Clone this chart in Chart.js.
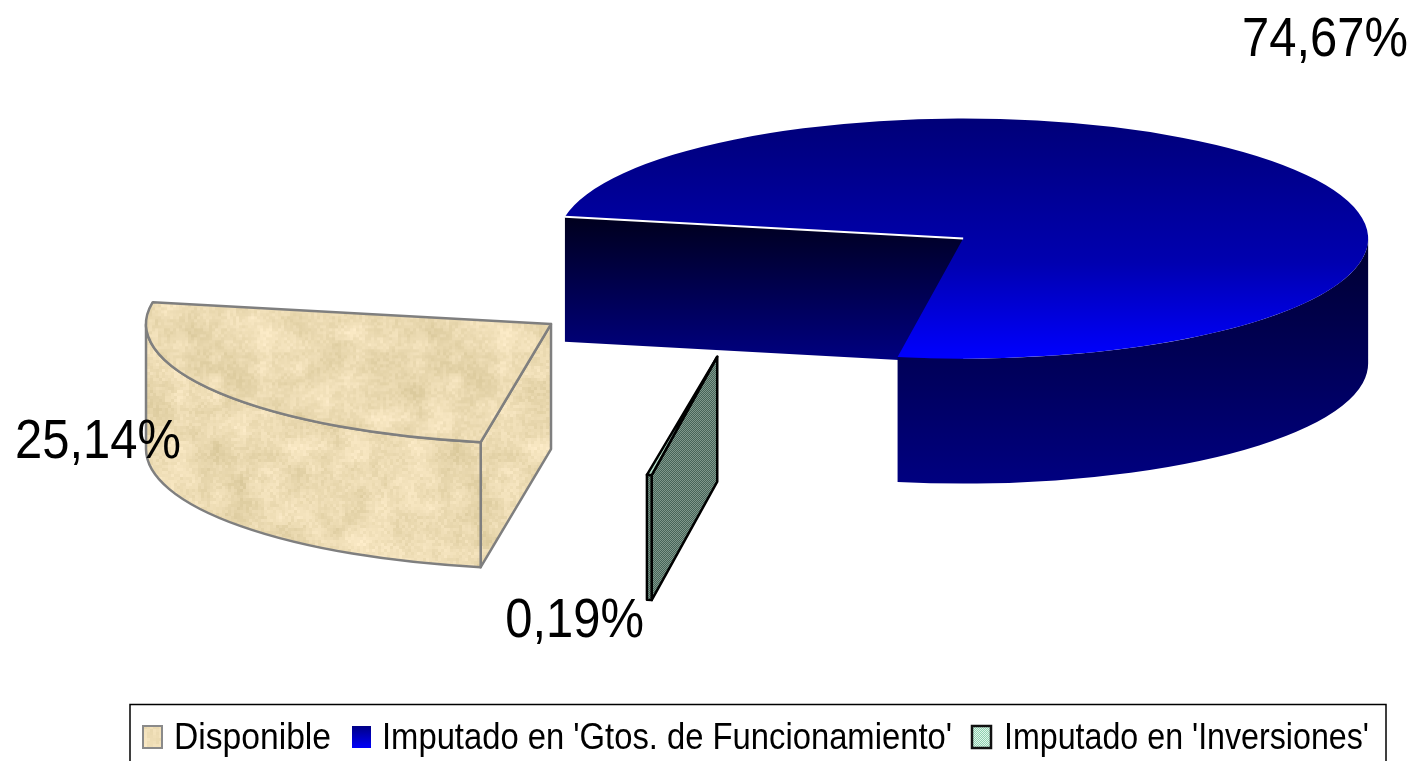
<!DOCTYPE html>
<html>
<head>
<meta charset="utf-8">
<style>
html, body { margin: 0; padding: 0; background: #fff; overflow: hidden; }
canvas { display: block; }
</style>
<script src="https://cdn.jsdelivr.net/npm/chart.js@4/dist/chart.umd.min.js"></script>
</head>
<body>
<canvas id="myChart" width="1416" height="761"></canvas>
<script>
const categories = ['Disponible', "Imputado en 'Gtos. de Funcionamiento'", "Imputado en 'Inversiones'"];
const percentages = [25.14, 74.67, 0.19];

const radiusX = 405;
const radiusY = 120;
const depth = 125;
const explode = 0.6145;
const pieCenter = { x: 757, y: 281 };
const squash = radiusY / radiusX;
const textFont = '"Liberation Sans", Arial, sans-serif';

// small hand nudges on top of the explode, in pixels
const sliceNudge = [{ x: -1.5, y: 1 }, { x: 2.5, y: 0 }, { x: 2, y: 3 }];

// where each percentage goes: right edge and baseline of the text
const labelSpots = [
    { right: 181, base: 458 },
    { right: 1408, base: 56 },
    { right: 644, base: 637 }
];

// legend layout: swatch left, text left, text width
const legendSpots = [
    { swatch: 143, text: 174, width: 157 },
    { swatch: 352, text: 382, width: 570 },
    { swatch: 972, text: 1004, width: 365 }
];

const canvas = document.getElementById('myChart');
const ctx = canvas.getContext('2d');

function noiseAt(x, y) {
    const s = Math.sin(x * 12.9898 + y * 78.233) * 43758.5453;
    return s - Math.floor(s);
}

// value noise that wraps every `cells` cells
function smoothNoise(x, y, cell, cells) {
    const gx = Math.floor(x / cell);
    const gy = Math.floor(y / cell);
    var fx = x / cell - gx;
    var fy = y / cell - gy;
    fx = fx * fx * (3 - 2 * fx);
    fy = fy * fy * (3 - 2 * fy);
    const x0 = gx % cells;
    const y0 = gy % cells;
    const x1 = (gx + 1) % cells;
    const y1 = (gy + 1) % cells;
    const top = noiseAt(x0, y0) * (1 - fx) + noiseAt(x1, y0) * fx;
    const bottom = noiseAt(x0, y1) * (1 - fx) + noiseAt(x1, y1) * fx;
    return top * (1 - fy) + bottom * fy;
}

function makeSandTile() {
    const tile = document.createElement('canvas');
    tile.width = 240;
    tile.height = 240;
    const t = tile.getContext('2d');
    for (var y = 0; y < 240; y += 3) {
        for (var x = 0; x < 240; x += 3) {
            const big = smoothNoise(x, y, 30, 8) - 0.5;
            const mid = smoothNoise(x, y, 12, 20) - 0.5;
            const small = noiseAt(x + 1, y + 2) - 0.5;
            const v = big * 14 + mid * 16 + small * 12;
            t.fillStyle = 'rgb(' + Math.round(237 + v) + ',' + Math.round(220 + v) + ',' + Math.round(180 + v * 1.3) + ')';
            t.fillRect(x, y, 3, 3);
        }
    }
    return tile;
}

function makeDitherTile(colorA, colorB) {
    const tile = document.createElement('canvas');
    tile.width = 2;
    tile.height = 2;
    const t = tile.getContext('2d');
    t.fillStyle = colorA;
    t.fillRect(0, 0, 2, 2);
    t.fillStyle = colorB;
    t.fillRect(0, 0, 1, 1);
    t.fillRect(1, 1, 1, 1);
    return tile;
}

const sandTile = makeSandTile();
const sandFlat = ctx.createPattern(sandTile, 'repeat');
const sandTop = ctx.createPattern(sandTile, 'repeat');
sandTop.setTransform(new DOMMatrix([1, 0, 0, 1 / squash, 0, 0]));

const mossSide = ctx.createPattern(makeDitherTile('#466458', '#80988c'), 'repeat');
const mintTile = makeDitherTile('#8fd0b0', '#e0f5ea');
const mintTop = ctx.createPattern(mintTile, 'repeat');
mintTop.setTransform(new DOMMatrix([1, 0, 0, 1 / squash, 0, 0]));
const mintFlat = ctx.createPattern(mintTile, 'repeat');

const blueTop = ctx.createLinearGradient(0, canvas.height / 2 - radiusX, 0, canvas.height / 2 + radiusX);
blueTop.addColorStop(0, '#000078');
blueTop.addColorStop(0.6, '#0000b0');
blueTop.addColorStop(1, '#0000ff');

const blueWall = ctx.createLinearGradient(0, 240, 0, 482);
blueWall.addColorStop(0, '#000030');
blueWall.addColorStop(1, '#000080');

const blueFace = ctx.createLinearGradient(0, 218, 0, 362);
blueFace.addColorStop(0, '#00001e');
blueFace.addColorStop(1, '#000082');

const blueSwatch = ctx.createLinearGradient(0, 725, 0, 749);
blueSwatch.addColorStop(0, '#000080');
blueSwatch.addColorStop(1, '#0000ff');

const sideFills = [sandFlat, blueWall, mossSide];
const faceFills = [sandFlat, blueFace, mossSide];
const edgeColors = ['#7f7f7f', null, '#000000'];
const edgeWidths = [2.5, 2, 2.5];
const swatchFills = [sandFlat, blueSwatch, mintFlat];
const swatchEdges = ['#8a8a8a', null, '#111111'];

function slicePos(arc, i) {
    const mid = (arc.startAngle + arc.endAngle) / 2;
    return {
        x: pieCenter.x + Math.cos(mid) * explode * radiusX + sliceNudge[i].x,
        y: pieCenter.y + Math.sin(mid) * explode * radiusY + sliceNudge[i].y
    };
}

function rimPoint(p, angle) {
    return { x: p.x + Math.cos(angle) * radiusX, y: p.y + Math.sin(angle) * radiusY };
}

// part of the rim that faces the viewer, null if there is none
function frontRange(a0, a1) {
    const turn = Math.PI * 2;
    for (var k = -1; k < 3; ++k) {
        const from = Math.max(a0, k * turn);
        const to = Math.min(a1, k * turn + Math.PI);
        if (from < to) {
            return [from, to];
        }
    }
    return null;
}

function drawFace(c, p, angle, fill, edge) {
    const rim = rimPoint(p, angle);
    c.beginPath();
    c.moveTo(p.x, p.y);
    c.lineTo(rim.x, rim.y);
    c.lineTo(rim.x, rim.y + depth);
    c.lineTo(p.x, p.y + depth);
    c.closePath();
    c.fillStyle = fill;
    c.fill();
    if (edge) {
        c.stroke();
    }
}

function drawSlice(c, arc, i) {
    const p = slicePos(arc, i);
    const edge = edgeColors[i];
    c.save();
    c.lineWidth = edgeWidths[i];
    c.lineJoin = 'round';
    if (edge) {
        c.strokeStyle = edge;
    }
    // cut faces
    if (Math.cos(arc.startAngle) < 0) {
        drawFace(c, p, arc.startAngle, faceFills[i], edge);
    }
    if (Math.cos(arc.endAngle) > 0) {
        drawFace(c, p, arc.endAngle, faceFills[i], edge);
    }
    // outer wall
    const range = frontRange(arc.startAngle, arc.endAngle);
    if (range) {
        c.beginPath();
        c.ellipse(p.x, p.y, radiusX, radiusY, 0, range[0], range[1]);
        c.ellipse(p.x, p.y + depth, radiusX, radiusY, 0, range[1], range[0], true);
        c.closePath();
        c.fillStyle = sideFills[i];
        c.fill();
        if (edge) {
            c.stroke();
        }
    }
    c.restore();

    // top, drawn by the library's own arc element
    c.save();
    c.translate(p.x, p.y);
    c.scale(1, squash);
    c.translate(-arc.x, -arc.y);
    arc.draw(c);
    c.restore();

    c.save();
    c.lineWidth = edgeWidths[i];
    c.lineJoin = 'round';
    const a = rimPoint(p, arc.startAngle);
    c.beginPath();
    if (edge) {
        c.moveTo(p.x, p.y);
        c.lineTo(a.x, a.y);
        c.ellipse(p.x, p.y, radiusX, radiusY, 0, arc.startAngle, arc.endAngle);
        c.closePath();
        c.strokeStyle = edge;
        c.stroke();
    } else {
        c.moveTo(a.x, a.y);
        c.lineTo(p.x, p.y);
        c.strokeStyle = '#ffffff';
        c.stroke();
    }
    c.restore();
}

function drawWideText(c, text, x, y, size, stretch) {
    c.save();
    c.translate(x, y);
    c.scale(stretch, 1);
    c.font = size + 'px ' + textFont;
    c.fillStyle = '#000000';
    c.textBaseline = 'alphabetic';
    c.textAlign = 'left';
    c.fillText(text, 0, 0);
    c.restore();
}

function drawPercentLabels(c) {
    const size = 55;
    const stretch = 0.89;
    c.font = size + 'px ' + textFont;
    percentages.forEach(function(value, i) {
        const text = value.toFixed(2).replace('.', ',') + '%';
        const w = c.measureText(text).width * stretch;
        drawWideText(c, text, labelSpots[i].right - w, labelSpots[i].base, size, stretch);
    });
}

function drawLegendBox(c, chart) {
    const size = 37;
    const swatchW = 19;
    c.save();
    c.strokeStyle = '#000000';
    c.lineWidth = 1.5;
    c.strokeRect(130, 704.5, 1256, 70);
    c.restore();
    chart.data.labels.forEach(function(label, i) {
        const spot = legendSpots[i];
        c.save();
        c.fillStyle = swatchFills[i];
        c.fillRect(spot.swatch, 726, swatchW, 22);
        if (swatchEdges[i]) {
            c.strokeStyle = swatchEdges[i];
            c.lineWidth = i === 2 ? 2.5 : 2;
            c.strokeRect(spot.swatch, 726, swatchW, 22);
        }
        c.restore();
        c.font = size + 'px ' + textFont;
        const stretch = spot.width / c.measureText(label).width;
        drawWideText(c, label, spot.text, 749, size, stretch);
    });
}

const explodedPie = {
    id: 'explodedPie',
    beforeDatasetsDraw(chart) {
        const c = chart.ctx;
        const arcs = chart.getDatasetMeta(0).data;
        arcs.forEach(function(arc, i) {
            drawSlice(c, arc, i);
        });
        return false;
    },
    afterDraw(chart) {
        drawPercentLabels(chart.ctx);
        drawLegendBox(chart.ctx, chart);
    }
};

new Chart(canvas, {
    type: 'pie',
    data: {
        labels: categories,
        datasets: [{
            data: percentages,
            backgroundColor: [sandTop, blueTop, mintTop],
            borderWidth: 0
        }]
    },
    options: {
        responsive: false,
        animation: false,
        rotation: 190,
        radius: radiusX,
        plugins: {
            legend: { display: false },
            tooltip: { enabled: false }
        }
    },
    plugins: [explodedPie]
});
</script>
</body>
</html>
